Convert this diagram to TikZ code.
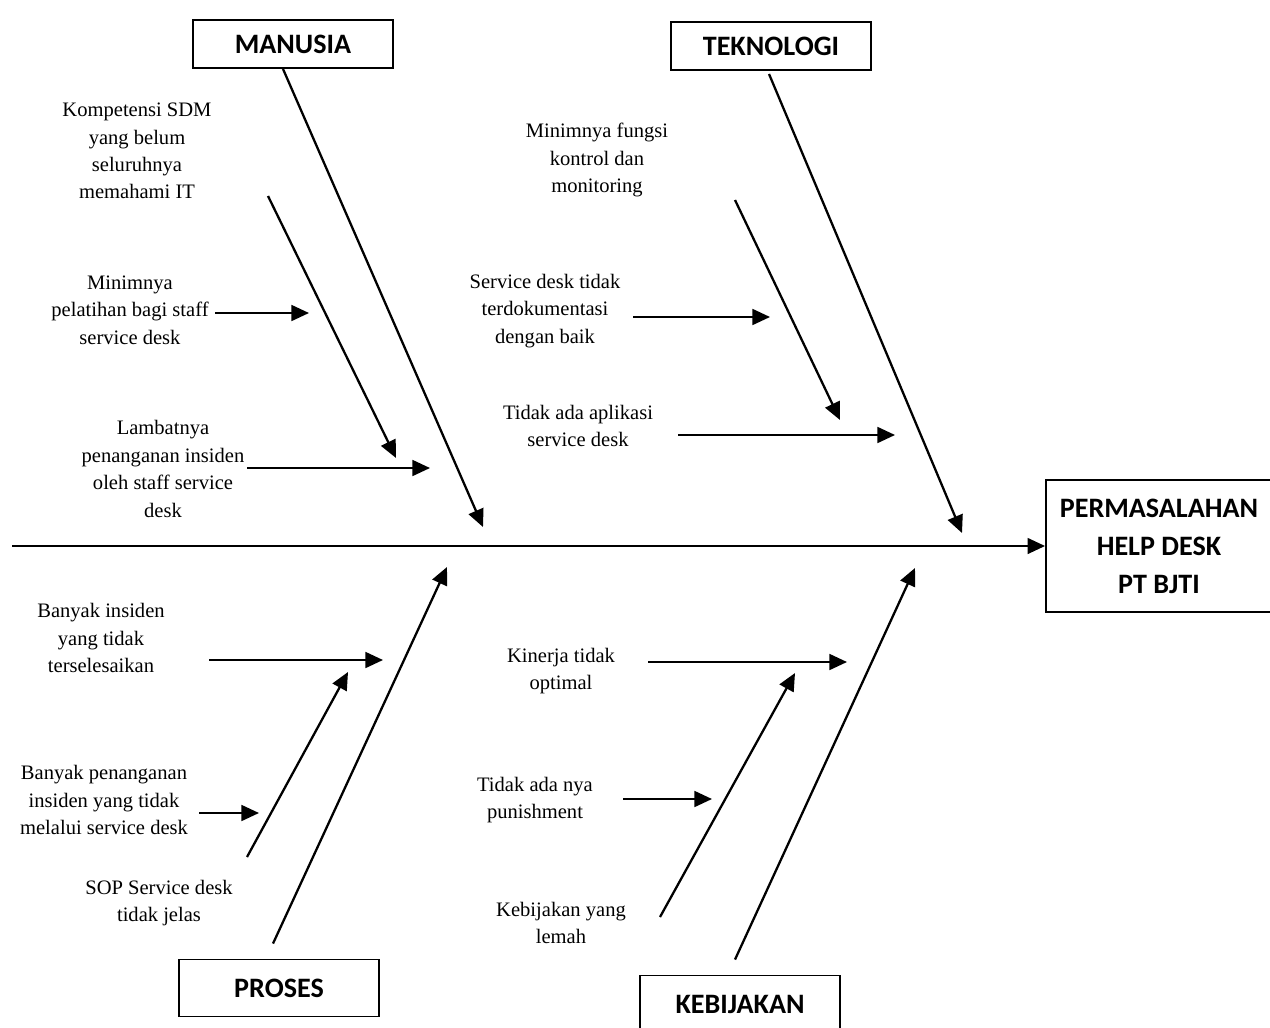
\documentclass[tikz,border=0pt]{standalone}
\usepackage{fontspec}
\setmainfont{Liberation Serif}
\newfontfamily\boxfont{Carlito}
\usetikzlibrary{arrows.meta}

\begin{document}
\begin{tikzpicture}[x=0.02cm,y=-0.02cm]
\tikzstyle{every node}+=[inner sep=0pt]
\tikzstyle{catbox}=[draw, line width=1.1pt, minimum width=4cm, minimum height=0.96cm, font=\boxfont\bfseries\fontsize{16}{19}\selectfont]
\tikzstyle{cause}=[align=center, font=\fontsize{11.7}{15.6}\selectfont]
\tikzstyle{bone}=[line width=1.3pt, -{Triangle[length=10pt,width=9pt]}]
\useasboundingbox (0,0) rectangle (1270,1027);
% kotak kategori dan masalah
\node [catbox] (manusia) at (293,44) {MANUSIA};
\node [catbox] (teknologi) at (771,46) {TEKNOLOGI};
\node [catbox, minimum height=1.14cm] (proses) at (279,988) {PROSES};
\node [catbox, minimum height=1.3cm] (kebijakan) at (740,1008) {};
\node [font=\boxfont\bfseries\fontsize{16}{19}\selectfont] at (740,1004) {KEBIJAKAN};
\node [draw, line width=1.1pt, minimum width=4.52cm, minimum height=2.64cm, align=center,
  font=\boxfont\bfseries\fontsize{16}{21.6}\selectfont] (masalah) at (1159,546) {PERMASALAHAN\\HELP DESK\\PT BJTI};
% tulang utama
\coordinate (ekor) at (12,546);
\draw [bone] (ekor) -- (masalah.west);
\coordinate (mEnd) at (483,527);
\coordinate (tEnd) at (962,533);
\coordinate (pEnd) at (447,567);
\coordinate (kEnd) at (915,568);
\draw [bone] (manusia.south) ++(-10,0) coordinate (mStart) -- (mEnd);
\draw [bone] (teknologi.south) ++(-2,3) coordinate (tStart) -- (tEnd);
\draw [bone] (proses.north) ++(-6,-15) coordinate (pStart) -- (pEnd);
\draw [bone] (kebijakan.north) ++(-5,-15) coordinate (kStart) -- (kEnd);
% manusia
\node [cause] (m1) at (137,151) {Kompetensi SDM\\yang belum\\seluruhnya\\memahami IT};
\node [cause] (m2) at (130,310) {Minimnya\\pelatihan bagi staff\\service desk};
\node [cause] (m3) at (163,469) {Lambatnya\\penanganan insiden\\oleh staff service\\desk};
\coordinate (m1a) at (268,196); \coordinate (m1b) at (396,458);
\coordinate (m2a) at (215,313); \coordinate (m2b) at (309,313);
\coordinate (m3a) at (247,468); \coordinate (m3b) at (430,468);
\draw [bone] (m1a) -- (m1b);
\draw [bone] (m2a) -- (m2b);
\draw [bone] (m3a) -- (m3b);
% teknologi
\node [cause] (t1) at (597,160) {Minimnya fungsi\\kontrol dan\\monitoring};
\node [cause] (t2) at (545,311) {Service desk tidak\\terdokumentasi\\dengan baik};
\node [cause] (t3) at (578,426) {Tidak ada aplikasi\\service desk};
\coordinate (t1a) at (735,200); \coordinate (t1b) at (840,420);
\coordinate (t2a) at (633,317); \coordinate (t2b) at (770,317);
\coordinate (t3a) at (678,435); \coordinate (t3b) at (895,435);
\draw [bone] (t1a) -- (t1b);
\draw [bone] (t2a) -- (t2b);
\draw [bone] (t3a) -- (t3b);
% proses
\node [cause] (p1) at (101,638) {Banyak insiden\\yang tidak\\terselesaikan};
\node [cause] (p2) at (104,800) {Banyak penanganan\\insiden yang tidak\\melalui service desk};
\node [cause] (p3) at (159,903) {SOP Service desk\\tidak jelas};
\coordinate (p1a) at (209,660); \coordinate (p1b) at (383,660);
\coordinate (p2a) at (247,857); \coordinate (p2b) at (348,672);
\coordinate (p3a) at (199,813); \coordinate (p3b) at (259,813);
\draw [bone] (p1a) -- (p1b);
\draw [bone] (p2a) -- (p2b);
\draw [bone] (p3a) -- (p3b);
% kebijakan
\node [cause] (k1) at (561,671) {Kinerja tidak\\optimal};
\node [cause] (k2) at (535,800) {Tidak ada nya\\punishment};
\node [cause] (k3) at (561,923) {Kebijakan yang\\lemah};
\coordinate (k1a) at (648,662); \coordinate (k1b) at (847,662);
\coordinate (k2a) at (660,917); \coordinate (k2b) at (795,673);
\coordinate (k3a) at (623,799); \coordinate (k3b) at (712,799);
\draw [bone] (k1a) -- (k1b);
\draw [bone] (k2a) -- (k2b);
\draw [bone] (k3a) -- (k3b);
\end{tikzpicture}
\end{document}
